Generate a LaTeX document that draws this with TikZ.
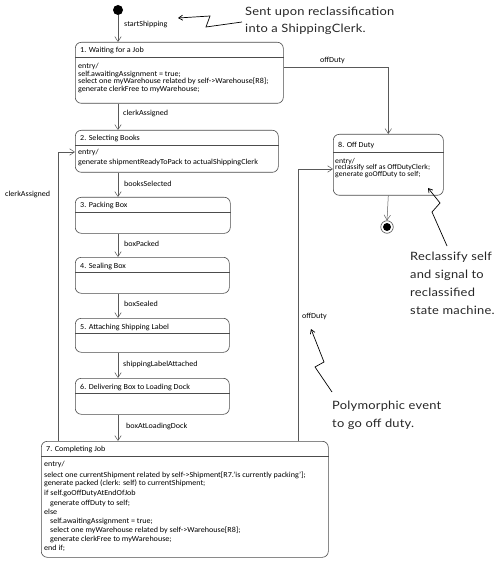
\documentclass[tikz,border=0pt]{standalone}
\usepackage{fontspec}
\setmainfont{Carlito}[FakeStretch=1.05]
\newfontfamily\hand{Lato}[FakeStretch=1.12,LetterSpace=2]
\usetikzlibrary{arrows.meta,calc}
\begin{document}
\begin{tikzpicture}[x=1pt,y=-1pt,
  st/.style={draw=black!70, rounded corners=6pt, line width=0.6pt, inner sep=0pt, anchor=north west},
  sepl/.style={draw=black!70, line width=0.6pt},
  tx/.style={inner sep=0pt, anchor=base west, font=\fontsize{7.7}{8}\selectfont},
  hd/.style={inner sep=0pt, anchor=base west, font=\hand\fontsize{11.5}{14}\selectfont, text=black!85},
  arr/.style={draw=black!65, line width=0.5pt, -{Straight Barb[length=5pt,width=6.5pt]}},
  ann/.style={draw=black, line width=0.7pt, -{Straight Barb[length=4pt,width=5pt]}}
]
\useasboundingbox (0,0) rectangle (500,561);

% pseudo states
\node[circle, fill=black, minimum size=10pt, inner sep=0pt] (init) at (118,10) {};
\node[circle, draw=black!70, line width=0.6pt, minimum size=12.5pt, inner sep=0pt] (fin) at (387,227) {};
\node[circle, fill=black, minimum size=8pt, inner sep=0pt] (finin) at (fin) {};

% states
\node[st, minimum width=208pt, minimum height=61pt] (s1) at (75,42) {};
\node[st, minimum width=203pt, minimum height=42pt] (s2) at (75,130) {};
\node[st, minimum width=155pt, minimum height=36pt] (s3) at (75,197) {};
\node[st, minimum width=154pt, minimum height=36pt] (s4) at (75,257) {};
\node[st, minimum width=154pt, minimum height=34pt] (s5) at (75,318) {};
\node[st, minimum width=154pt, minimum height=36pt] (s6) at (75,378) {};
\node[st, minimum width=287pt, minimum height=116pt] (s7) at (41,441) {};
\node[st, minimum width=110pt, minimum height=61pt] (s8) at (333,134) {};

\foreach \s/\d in {s1/15,s2/15,s3/15,s4/15,s5/15,s6/15,s7/15,s8/18}{
  \draw[sepl] ($(\s.north west)+(0,\d)$) -- ($(\s.north east)+(0,\d)$);
}

% titles
\node[tx] (h1) at (80,52.5) {1. Waiting for a Job};
\node[tx] (h2) at (80,140.5) {2. Selecting Books};
\node[tx] (h3) at (80,207.5) {3. Packing Box};
\node[tx] (h4) at (80,268.5) {4. Sealing Box};
\node[tx] (h5) at (80,329.5) {5. Attaching Shipping Label};
\node[tx] (h6) at (80,389.5) {6. Delivering Box to Loading Dock};
\node[tx] (h7) at (46,451.5) {7. Completing Job};
\node[tx] (h8) at (338,147.5) {8. Off Duty};

% bodies
\node[tx] (b1a) at (78,69) {entry/};
\node[tx] (b1b) at (78,76.5) {self.awaitingAssignment = true;};
\node[tx] (b1c) at (78,84) {select one myWarehouse related by self->Warehouse[R8];};
\node[tx] (b1d) at (78,91.5) {generate clerkFree to myWarehouse;};

\node[tx] (b2a) at (78,154.5) {entry/};
\node[tx] (b2b) at (78,164.5) {generate shipmentReadyToPack to actualShippingClerk};

\node[inner sep=0pt, anchor=north west, align=left, font=\fontsize{7.4}{6.6}\selectfont] (b8) at (335,158)
  {entry/\\reclassify self as OffDutyClerk;\\generate goOffDuty to self;};

\node[tx] (b7a) at (44,466.5) {entry/};
\node[tx] (b7b) at (44,477.5) {select one currentShipment related by self->Shipment[R7.'is currently packing'];};
\node[tx] (b7c) at (44,485.5) {generate packed (clerk: self) to currentShipment;};
\node[tx] (b7d) at (44,495.5) {if self.goOffDutyAtEndOfJob};
\node[tx] (b7e) at (50,505.5) {generate offDuty to self;};
\node[tx] (b7f) at (44,514.5) {else};
\node[tx] (b7g) at (50,523.5) {self.awaitingAssignment = true;};
\node[tx] (b7h) at (50,532.5) {select one myWarehouse related by self->Warehouse[R8];};
\node[tx] (b7i) at (50,541.5) {generate clerkFree to myWarehouse;};
\node[tx] (b7j) at (44,550.5) {end if;};

% transitions
\coordinate (cx) at (118,0);
\coordinate (lx) at (58,0);
\coordinate (rx) at (298,0);
\draw[arr] (init) -- (cx |- s1.north);
\draw[arr] (cx |- s1.south) -- (cx |- s2.north);
\draw[arr] (cx |- s2.south) -- (cx |- s3.north);
\draw[arr] (cx |- s3.south) -- (cx |- s4.north);
\draw[arr] (cx |- s4.south) -- (cx |- s5.north);
\draw[arr] (cx |- s5.south) -- (cx |- s6.north);
\draw[arr] (cx |- s6.south) -- (cx |- s7.north);
\draw[arr] ($(s1.north east)+(0,25)$) -| (s8.north);
\draw[arr] (lx |- s7.north) |- ($(s2.north west)+(0,22)$);
\draw[arr] (rx |- s7.north) |- ($(s8.north west)+(0,35)$);
\draw[arr] (s8.south) -- (fin.north);

% transition labels
\node[tx] (l0) at (124,26.5) {startShipping};
\node[tx] (l1) at (123,115.5) {clerkAssigned};
\node[tx] (l2) at (320,62.5) {offDuty};
\node[tx] (l3) at (124,186.5) {booksSelected};
\node[tx] (l4) at (124,246.5) {boxPacked};
\node[tx] (l5) at (124,306.5) {boxSealed};
\node[tx] (l6) at (123,366.5) {shippingLabelAttached};
\node[tx] (l7) at (126,428.5) {boxAtLoadingDock};
\node[tx] (l8) at (5,196.5) {clerkAssigned};
\node[tx] (l9) at (302,318) {offDuty};

% annotations
\node[hd] (n1a) at (245,16) {Sent upon reclassification};
\node[hd] (n1b) at (245,33) {into a ShippingClerk.};
\node[hd] (n2a) at (410,260) {Reclassify self};
\node[hd] (n2b) at (410,278) {and signal to};
\node[hd] (n2c) at (410,296) {reclassified};
\node[hd] (n2d) at (410,314) {state machine.};
\node[hd] (n3a) at (332,409) {Polymorphic event};
\node[hd] (n3b) at (332,427) {to go off duty.};

\coordinate (p1) at (242,22);
\coordinate (p2) at (447,246);
\coordinate (p3) at (332,392);
\draw[ann] (p1) -- (206,27) -- (210,16) -- (178,18);
\draw[ann] (p2) -- (432,212) -- (440,203) -- (428,188);
\draw[ann] (p3) -- (315,367) -- (324,362) -- (311,329);
\end{tikzpicture}
\end{document}
